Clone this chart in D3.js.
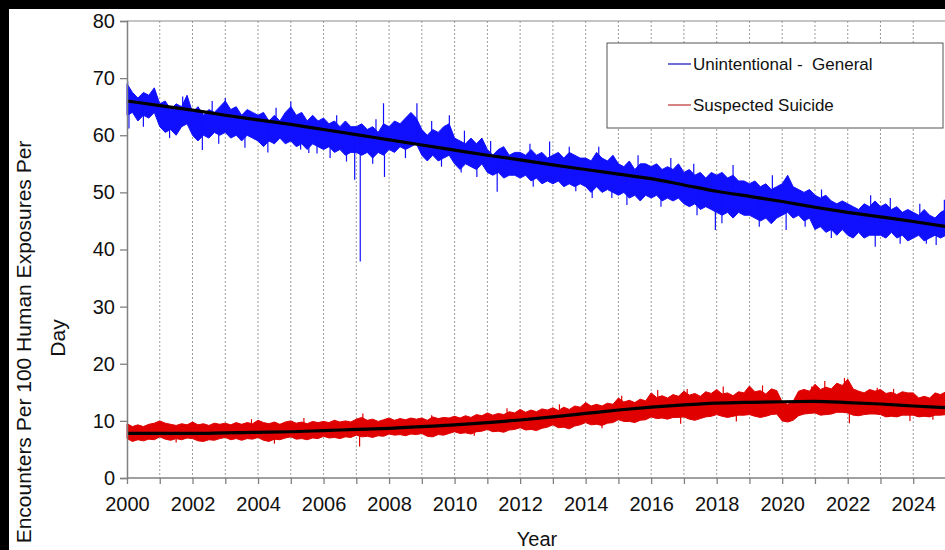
<!DOCTYPE html>
<html><head><meta charset="utf-8">
<script src="https://cdn.jsdelivr.net/npm/d3@7"></script>
<style>html,body{margin:0;padding:0;background:#000;overflow:hidden}svg{display:block}</style>
</head><body>
<svg id="c" width="945" height="550"></svg>
<script>
// ---- data ----
const startYear = 2000;           // first sample of the envelope arrays
const stepYears = 1/6;            // bimonthly envelope
const xTickYears = d3.range(2000, 2026, 1);
const yTicks = [0,10,20,30,40,50,60,70,80];
const seriesNames = ["Unintentional -  General", "Suspected Suicide"];

const generalHi = [
  69.0,67.5,66.5,67.5,67.0,68.3, 65.5,66.0,64.5,65.5,65.0,67.0, 64.0,65.0,63.5,64.5,64.0,65.0,
  66.0,64.5,65.0,63.5,64.5,64.0, 63.5,64.0,62.5,63.5,62.5,64.0, 65.0,63.5,64.0,62.5,63.5,62.5,
  63.0,62.0,62.5,61.5,62.5,61.5, 61.5,62.0,61.0,61.5,60.5,62.0, 61.5,62.5,62.0,63.0,64.0,63.0,
  61.0,60.0,61.0,60.5,61.5,62.0, 59.5,59.0,58.5,59.5,58.5,59.5, 57.5,56.5,57.5,58.0,56.5,57.0,
  57.0,56.5,57.5,56.5,57.0,56.0, 56.5,57.0,56.0,57.0,56.5,56.0, 56.0,55.5,57.0,56.0,55.5,56.5,
  55.0,54.5,55.5,54.0,55.0,55.0, 54.5,55.0,54.0,54.5,54.0,55.0, 53.5,54.0,53.0,53.5,52.5,53.5,
  53.0,53.5,52.5,53.0,52.0,52.0, 51.5,52.0,51.0,51.5,50.5,51.0, 51.5,53.0,51.0,50.5,50.0,50.5,
  49.5,49.0,49.5,48.5,48.0,48.5, 48.0,47.5,47.0,48.0,47.5,48.5, 47.5,48.0,47.0,47.5,46.5,47.0,
  46.5,46.0,47.0,46.0,45.5,46.5, 47.0,46.0];
const generalLo = [
  63.5,64.0,62.5,63.5,63.0,64.0, 61.5,60.5,61.0,60.0,61.5,62.0, 60.0,59.0,60.0,59.5,60.5,60.0,
  60.5,59.5,60.0,59.0,60.0,59.5, 59.0,58.0,59.0,58.5,59.5,58.5, 59.0,58.0,58.5,57.5,58.5,58.0,
  57.5,58.0,57.0,57.5,56.5,57.0, 57.0,56.5,57.0,56.0,57.0,56.5, 57.5,57.0,58.0,57.5,58.0,58.5,
  56.5,55.5,56.5,55.5,56.0,56.5, 55.0,54.0,55.0,54.5,54.0,55.0, 53.5,53.0,53.5,52.5,53.0,53.0,
  52.5,53.0,52.0,52.5,51.5,52.0, 51.5,52.0,51.0,51.5,51.0,51.5, 51.0,50.0,51.0,50.0,50.5,50.0,
  49.5,50.0,49.0,49.5,48.5,49.5, 49.0,49.5,48.5,49.0,48.5,49.0, 48.0,47.5,48.0,47.0,47.5,47.0,
  46.5,46.0,46.5,45.5,46.5,46.0, 46.0,45.5,45.0,45.5,44.5,45.5, 46.0,46.5,45.5,46.0,45.0,45.5,
  43.5,44.0,43.0,43.5,42.5,43.5, 42.5,42.0,43.0,42.0,42.5,42.5, 42.5,42.0,43.0,42.0,42.5,41.5,
  42.0,42.5,41.5,42.0,42.5,42.0, 42.5,42.0];
const generalSpikeYears = [2000.02,2000.06,2000.5,2001.3,2001.7,2002.3,2002.6,2002.8,2003.0,2003.6,2004.3,2004.55,
  2005.0,2005.3,2005.55,2005.8,2006.2,2006.4,2006.7,2006.95,2007.12,2007.5,2007.6,2007.83,2007.86,2008.5,2008.85,
  2009.3,2009.6,2009.84,2010.2,2010.3,2010.68,2011.1,2011.3,2012.3,2012.4,2012.9,2013.5,2013.7,2014.2,2014.4,2014.8,
  2015.26,2015.6,2016.3,2016.6,2017.3,2017.4,2017.96,2018.16,2018.5,2019.3,2019.7,2020.12,2020.7,2021.2,2021.5,
  2022.7,2022.84,2023.3,2023.6,2024.2,2024.4,2024.7,2024.95];
const generalSpikeVals = [69.4,61.2,61.5,59.5,66.8,57.4,66.0,58.5,66.5,57.8,57.0,64.8,
  65.9,57.5,56.9,56.8,56.0,63.5,55.4,52.2,37.9,55.0,62.8,65.6,52.7,56.0,65.6,
  62.5,54.5,63.5,53.5,60.8,52.7,59.0,50.1,58.5,51.0,58.9,58.0,50.2,49.0,58.0,49.0,
  47.8,56.5,47.5,56.0,55.0,46.0,43.4,44.6,54.8,44.0,53.0,43.4,44.0,50.5,42.0,
  49.5,40.5,49.0,41.0,48.0,41.0,40.8,48.7];

const suicideHi = [
  9.5,9.0,9.3,9.0,9.4,9.6, 10.0,9.6,9.4,9.2,9.5,9.3, 9.8,9.3,9.5,9.2,9.6,9.4,
  9.6,9.3,9.7,9.4,9.7,9.5, 10.1,9.7,9.5,9.8,9.4,9.8, 10.0,9.6,9.8,9.5,9.9,9.7,
  9.9,9.7,10.1,9.8,10.0,9.8, 10.3,10.6,10.1,10.3,9.9,10.2, 10.5,10.1,10.4,10.2,10.5,10.3,
  10.5,10.1,10.7,10.4,10.6,10.5, 10.8,10.5,10.9,10.6,11.1,10.9, 11.4,11.0,11.3,11.1,11.6,11.4,
  12.0,11.5,11.9,11.6,12.1,11.9, 12.3,11.8,12.4,12.0,12.6,12.4, 13.2,12.6,12.9,12.6,13.1,12.9,
  14.0,13.3,13.6,13.2,13.8,13.5, 14.9,14.1,14.4,14.0,14.6,14.3, 15.2,14.5,14.8,14.3,15.1,14.8,
  15.5,14.7,14.9,14.4,15.1,14.9, 16.1,15.1,15.3,14.7,15.6,15.3, 13.3,12.9,13.4,15.2,15.5,15.2,
  16.4,15.5,15.9,15.6,16.6,16.2, 17.3,15.6,15.2,14.9,15.5,15.2, 15.5,14.8,15.0,14.6,15.1,14.9,
  14.9,14.0,14.3,14.0,14.9,14.6, 15.1,14.6];
const suicideLo = [
  6.9,6.4,6.7,6.5,6.8,6.7, 7.2,6.8,6.6,6.9,6.7,7.0, 6.9,6.5,6.4,6.7,6.6,6.9,
  7.1,6.7,6.9,6.6,6.9,6.8, 7.1,6.6,6.4,6.8,6.7,7.0, 7.2,6.8,6.9,6.7,7.0,6.9,
  7.3,7.0,7.1,6.9,7.2,7.1, 7.5,7.2,7.3,7.1,7.4,7.3, 7.7,7.5,7.6,7.4,7.7,7.6,
  7.8,7.3,7.2,7.6,7.5,7.8, 8.1,7.8,7.9,7.7,8.1,8.2, 8.5,8.1,8.2,8.0,8.4,8.5,
  8.8,8.4,8.5,8.3,8.7,8.9, 9.3,8.8,8.9,8.6,9.1,9.3, 9.7,9.3,9.4,9.2,9.6,9.7,
  10.2,9.9,9.9,9.7,10.1,10.2, 10.7,10.4,10.5,10.3,10.6,10.6, 10.7,10.3,10.1,10.4,10.7,10.8,
  11.1,10.8,10.6,10.8,11.0,11.0, 11.1,10.8,10.6,10.8,11.1,11.2, 10.0,9.8,10.1,10.9,11.2,11.3,
  11.4,11.0,11.1,11.2,11.5,11.5, 11.4,11.0,10.9,11.1,11.2,11.2, 11.1,10.7,10.8,10.7,11.0,11.0,
  11.0,10.7,10.8,10.7,11.0,11.0, 11.1,10.8];
const suicideSpikeYears = [2001.5,2003.8,2004.5,2005.4,2007.1,2007.2,2009.3,2010.6,2011.6,2013.2,2014.5,2015.1,
  2016.2,2016.9,2017.1,2018.2,2018.6,2019.4,2020.9,2021.3,2021.9,2022.0,2022.05,2022.9,2023.4,2023.9,2024.6];
const suicideSpikeVals = [6.2,10.3,6.0,10.5,5.5,11.3,11.0,7.4,12.2,12.9,8.7,14.4,
  15.4,9.5,15.6,16.0,9.9,16.2,16.0,17.0,17.5,17.2,9.6,15.8,15.6,10.0,10.2];

const trendYears   = d3.range(2000, 2026, 1);
const generalTrend = [66.0,65.2,64.4,63.5,62.7,61.9,61.0,60.1,59.2,58.3,57.4,56.5,55.7,54.8,54.0,53.2,52.4,51.3,50.2,49.3,48.4,47.4,46.5,45.7,44.9,44.0];
const suicideTrend = [7.8,7.8,7.8,7.9,8.0,8.1,8.3,8.5,8.7,9.0,9.3,9.7,10.15,10.7,11.3,11.9,12.4,12.8,13.1,13.25,13.35,13.4,13.2,12.95,12.6,12.3];

// ---- drawing ----
const svg = d3.select("#c");
const W = 945, H = 550;
svg.append("rect").attr("x",0).attr("y",0).attr("width",W).attr("height",H).attr("fill","#000");
svg.append("rect").attr("x",9).attr("y",9).attr("width",W-9).attr("height",H-9).attr("fill","#fff");

const x = d3.scaleLinear().domain([2000, 2026]).range([127, 127 + 26*32.76]);
const y = d3.scaleLinear().domain([0, 80]).range([478, 21]);
const FONT = "'Liberation Sans', Arial, sans-serif";

// grid
svg.append("g").selectAll("line").data(d3.range(2001, 2027)).join("line")
  .attr("x1", d=>x(d)).attr("x2", d=>x(d)).attr("y1", y(80)).attr("y2", y(0))
  .attr("stroke","#9a9a9a").attr("stroke-width",1).attr("stroke-dasharray","2,2");
// top frame
svg.append("line").attr("x1",x(2000)).attr("x2",W).attr("y1",y(80)).attr("y2",y(80))
  .attr("stroke","#8a8a8a").attr("stroke-width",1.2);

function band(hi, lo, color){
  const pts = hi.map((h,i)=>({t:startYear+i*stepYears, h, l:lo[i]}));
  const area = d3.area().x(d=>x(d.t)).y0(d=>y(d.l)).y1(d=>y(d.h));
  svg.append("path").datum(pts).attr("d", area).attr("fill", color)
    .attr("stroke", color).attr("stroke-width", 1).attr("stroke-linejoin","miter");
}
function trendAt(trend, t){
  const i = Math.min(24, Math.floor(t-2000));
  return trend[i] + (trend[i+1]-trend[i])*(t-2000-i);
}
function spikes(ys, vs, trend, color){
  svg.append("g").selectAll("line").data(ys.map((t,i)=>({t, v:vs[i]}))).join("line")
    .attr("x1", d=>x(d.t)).attr("x2", d=>x(d.t))
    .attr("y1", d=>y(trendAt(trend, d.t))).attr("y2", d=>y(d.v))
    .attr("stroke", color).attr("stroke-width", 1.2);
}
function trendLine(vals){
  const line = d3.line().x((d,i)=>x(trendYears[i])).y(d=>y(d)).curve(d3.curveMonotoneX);
  svg.append("path").datum(vals).attr("d", line).attr("fill","none").attr("stroke","#000").attr("stroke-width",3.2);
}
const BLUE = "#1010ff", RED = "#e00000";
band(generalHi, generalLo, BLUE);
spikes(generalSpikeYears, generalSpikeVals, generalTrend, BLUE);
band(suicideHi, suicideLo, RED);
spikes(suicideSpikeYears, suicideSpikeVals, suicideTrend, RED);
trendLine(generalTrend);
trendLine(suicideTrend);

// axes
const axisColor = "#808080";
const yAxis = svg.append("g").attr("transform",`translate(${x(2000)},0)`)
  .call(d3.axisLeft(y).tickValues(yTicks).tickSize(7).tickPadding(5));
const xAxis = svg.append("g").attr("transform",`translate(0,${y(0)})`)
  .call(d3.axisBottom(x).tickValues(xTickYears).tickSize(6).tickPadding(13).tickFormat(d=> d%2===0 ? d : ""));
[yAxis, xAxis].forEach(g=>{
  g.select(".domain").attr("stroke",axisColor).attr("stroke-width",1.5);
  g.selectAll(".tick line").attr("stroke",axisColor).attr("stroke-width",1.3);
  g.selectAll("text").attr("fill","#111").attr("font-family",FONT).attr("font-size",20);
});
xAxis.select(".domain").attr("d", `M${x(2000)},0H${W}`);

// axis titles
svg.append("text").attr("x",537).attr("y",546).attr("text-anchor","middle")
  .attr("font-family",FONT).attr("font-size",20).attr("fill","#111").text("Year");
svg.append("text").attr("transform","translate(31,342) rotate(-90)").attr("text-anchor","middle")
  .attr("font-family",FONT).attr("font-size",21).attr("fill","#111").text("Encounters Per 100 Human Exposures Per");
svg.append("text").attr("transform","translate(65,338) rotate(-90)").attr("text-anchor","middle")
  .attr("font-family",FONT).attr("font-size",21).attr("fill","#111").text("Day");

// legend
const lg = svg.append("g");
lg.append("rect").attr("x",607).attr("y",43).attr("width",336).attr("height",85)
  .attr("fill","#fff").attr("stroke","#555").attr("stroke-width",1);
const legColors = ["#2020c0", "#c04040"];
seriesNames.forEach((n,i)=>{
  const yy = 64 + i*41;
  lg.append("line").attr("x1",668).attr("x2",691).attr("y1",yy).attr("y2",yy).attr("stroke",legColors[i]).attr("stroke-width",1.3);
  lg.append("text").attr("x",693).attr("y",yy+6).attr("font-family",FONT).attr("font-size",17).attr("fill","#111")
    .style("white-space","pre").text(n);
});
</script>
</body></html>
